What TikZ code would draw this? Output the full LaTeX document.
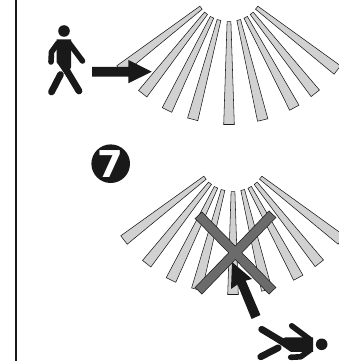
\documentclass[tikz,border=0pt]{standalone}
\usepackage{fontspec}
\setmainfont{Liberation Sans}
\newfontfamily\badgefont{DejaVu Sans}
\usetikzlibrary{calc}
\definecolor{raygray}{gray}{0.82}
\definecolor{ink}{gray}{0.1}
\definecolor{xgray}{gray}{0.42}
\newcommand{\ray}[4]{%
  \path let \p1=(#3,#4), \p2=(#1,#2), \n1={atan2(\y1-\y2,\x1-\x2)} in
    [raystyle] ($(\p2)+(\n1+90:1.9pt)$) -- ($(\p1)+(\n1+90:5.3pt)$) -- ($(\p1)+(\n1-90:5.3pt)$) -- ($(\p2)+(\n1-90:1.9pt)$) -- cycle;}
\newcommand{\fan}{%
  \ray{229}{21.7}{229}{124.5}
  \ray{238.7}{20}{262.7}{120}
  \ray{245.7}{17.3}{294.3}{107.7}
  \ray{251.7}{13.3}{315.3}{93.3}
  \ray{256.7}{7.7}{337.3}{70}
  \ray{219}{20}{192.7}{119.3}
  \ray{212}{17.3}{167}{110}
  \ray{206}{13.3}{142.7}{93.7}
  \ray{201}{7.7}{120}{70}}
\newcommand{\walker}{%
  \fill[ink] (0,0) circle (5.8);
  \fill[ink] (-7.5,8.5) -- (7,8.5) -- (7,36) -- (3,46) -- (-7.5,31) -- cycle;
  \draw[limb] (-6,12) -- (-12.5,21) -- (-13,31);
  \draw[limb] (5,12) -- (18.5,30);
  \draw[leg] (-3,30) -- (15,60);
  \draw[leg] (-3.5,43.5) -- (-12.5,61);}
\tikzset{
  x=1pt,y=-1pt,
  raystyle/.style={fill=raygray,draw=ink,line width=0.55pt,line join=miter},
  limb/.style={ink,line width=5.6pt,line cap=round,line join=round},
  leg/.style={ink,line width=6.8pt,line cap=round},
  solidink/.style={fill=ink,draw=none},
  crossarm/.style={draw=ink,line width=10pt},
  crossfill/.style={draw=xgray,line width=8.6pt}
}
\begin{document}
\begin{tikzpicture}
\useasboundingbox (0,0) rectangle (339,361);
\clip (0,0) rectangle (339,361);
\draw[ink,line width=1.7pt] (16,0) -- (16,361);
% top fan
\begin{scope}\fan\end{scope}
\fill[solidink] (92,66.8) -- (128.3,66.8) -- (128.3,60) -- (151.7,71.7) -- (128.3,83.3) -- (128.3,76.6) -- (92,76.6) -- cycle;
\begin{scope}[shift={(64,31)},x={(1pt,0pt)},y={(0pt,-1pt)}]\walker\end{scope}
% badge
\node[circle,fill=ink,minimum size=38.6pt,inner sep=0pt,text=white,font=\badgefont\bfseries\fontsize{37}{37}\selectfont] (seven) at (110.7,163.7) {7};
% bottom fan
\begin{scope}[shift={(4,170)}]\fan\end{scope}
\fill[solidink] (232,262) -- (252,279) -- (245.7,280.6) -- (260.4,315) -- (251.6,319) -- (237.5,284.5) -- (231,289) -- cycle;
\coordinate (xa) at (198.3,215); \coordinate (xb) at (272.7,291);
\coordinate (xc) at (272.7,214); \coordinate (xd) at (198.3,291);
\draw[crossarm] (xa) -- (xb); \draw[crossarm] (xc) -- (xd);
\draw[crossfill,shorten >=0.7pt,shorten <=0.7pt] (xa) -- (xb);
\draw[crossfill,shorten >=0.7pt,shorten <=0.7pt] (xc) -- (xd);
\begin{scope}[shift={(321.7,344.3)},x={(0pt,1pt)},y={(-1pt,0pt)}]\walker\end{scope}
\end{tikzpicture}
\end{document}
